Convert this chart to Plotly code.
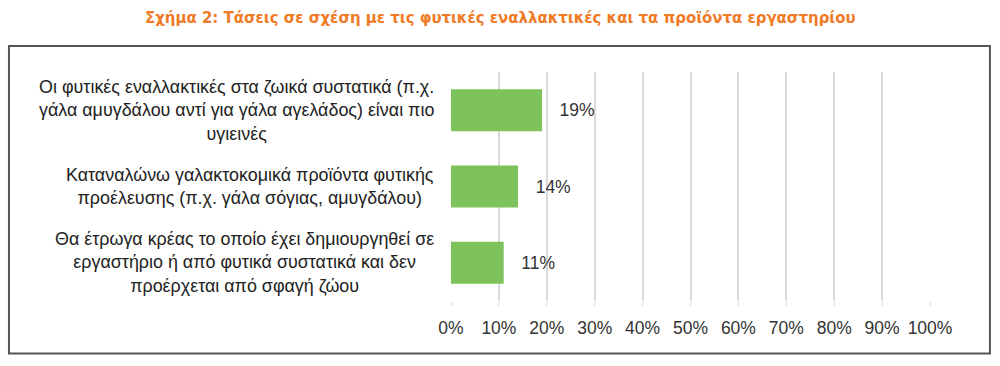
import plotly.graph_objects as go

categories = [
    "Οι φυτικές εναλλακτικές στα ζωικά συστατικά (π.χ.<br>γάλα αμυγδάλου αντί για γάλα αγελάδος) είναι πιο<br>υγιεινές",
    "Καταναλώνω γαλακτοκομικά προϊόντα φυτικής<br>προέλευσης (π.χ. γάλα σόγιας, αμυγδάλου)",
    "Θα έτρωγα κρέας το οποίο έχει δημιουργηθεί σε<br>εργαστήριο ή από φυτικά συστατικά και δεν<br>προέρχεται από σφαγή ζώου",
]
values = [19, 14, 11]
tick_vals = list(range(0, 101, 10))
tick_text = [f"{v}%" for v in tick_vals]
title = "Σχήμα 2: Τάσεις σε σχέση με τις φυτικές εναλλακτικές και τα προϊόντα εργαστηρίου"

W, H = 1000, 366
L, R, T, B = 450.5, 70, 72, 64.5
pw = W - L - R
ph = H - T - B

def px_x(p):
    return (p - L) / pw

def px_y(p):
    return (H - B - p) / ph

fig = go.Figure()
fig.add_trace(go.Bar(
    y=categories, x=values, orientation="h",
    marker=dict(color="#7DC25A", line=dict(width=0)),
    text=[f"\u00a0\u00a0\u00a0{v}%" for v in values],
    textposition="outside",
    textfont=dict(family="Liberation Sans, Arial", size=17.5, color="#333333"),
    cliponaxis=False,
))

for c in categories:
    fig.add_annotation(
        x=px_x(435), xref="paper", y=c, yref="y",
        text=c, showarrow=False, xanchor="right", yanchor="middle",
        align="center",
        font=dict(family="Liberation Sans, Arial", size=17.9, color="#222222"),
    )

fig.add_annotation(
    x=0.5 * (px_x(0) + px_x(W)), xref="paper", y=px_y(17), yref="paper",
    text="<b>" + title + "</b>", showarrow=False, xanchor="center", yanchor="middle",
    font=dict(family="Liberation Sans Narrow, DejaVu Sans Condensed, Arial Narrow", size=16.6, color="#EF7B26"),
)

fig.add_shape(
    type="rect", xref="paper", yref="paper",
    x0=px_x(8), x1=px_x(990), y0=px_y(46), y1=px_y(354),
    line=dict(color="#555555", width=2), fillcolor="rgba(0,0,0,0)", layer="below",
)

fig.update_layout(
    width=W, height=H,
    margin=dict(l=L, r=R, t=T, b=B, pad=0),
    paper_bgcolor="white", plot_bgcolor="white",
    bargap=0.45, showlegend=False,
    xaxis=dict(
        range=[0, 100], tickvals=tick_vals, ticktext=tick_text,
        showgrid=True, gridcolor="#D9D9D9", gridwidth=1.5,
        zeroline=False, showline=False,
        ticks="outside", ticklen=4, tickcolor="#D9D9D9",
        ticklabelstandoff=7,
        tickfont=dict(family="Liberation Sans, Arial", size=17.5, color="#333333"),
        fixedrange=True,
    ),
    yaxis=dict(
        categoryorder="array", categoryarray=categories, autorange="reversed",
        showticklabels=False, showgrid=False, zeroline=False, showline=False,
        fixedrange=True,
    ),
)

fig.write_html("out.html")
